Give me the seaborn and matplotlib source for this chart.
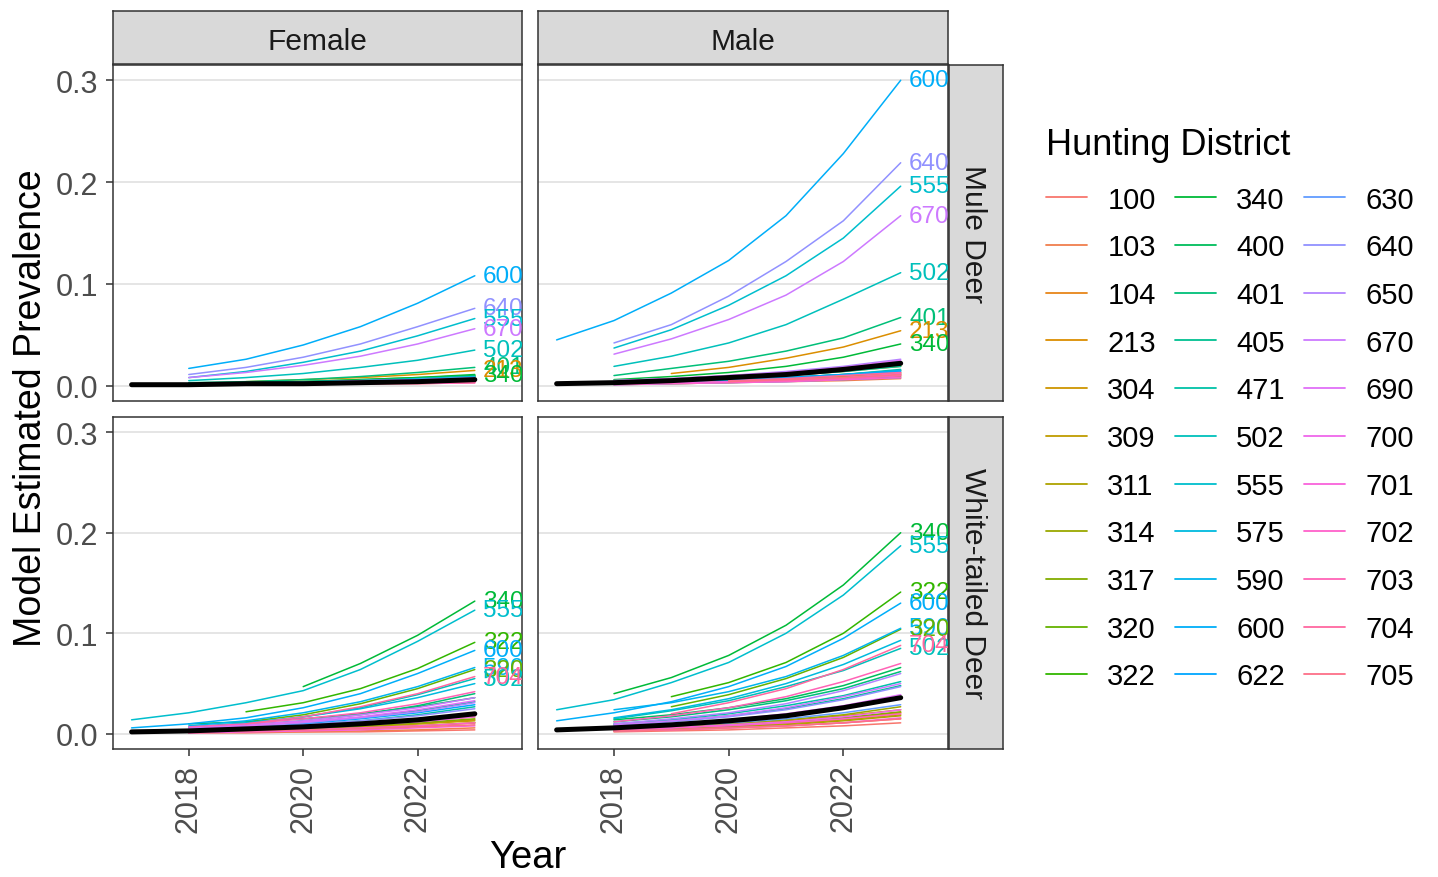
import numpy as np
import pandas as pd
import matplotlib
matplotlib.use("Agg")
import matplotlib.pyplot as plt
from matplotlib.lines import Line2D
import seaborn as sns

nan = np.nan
years = [2017, 2018, 2019, 2020, 2021, 2022, 2023]
districts = ["100", "103", "104", "213", "304", "309", "311", "314", "317", "320", "322",
             "340", "400", "401", "405", "471", "502", "555", "575", "590", "600", "622",
             "630", "640", "650", "670", "690", "700", "701", "702", "703", "704", "705"]
sexes = ["Female", "Male"]
species = ["Mule Deer", "White-tailed Deer"]

mule_female = {
    "100": [nan, 0.001, 0.001, 0.002, 0.002, 0.003, 0.004],
    "103": [nan, 0.001, 0.001, 0.001, 0.002, 0.002, 0.003],
    "104": [nan, 0.002, 0.002, 0.003, 0.004, 0.006, 0.008],
    "213": [nan, nan, 0.004, 0.006, 0.008, 0.011, 0.015],
    "304": [nan, 0.001, 0.002, 0.002, 0.003, 0.004, 0.006],
    "309": [nan, 0.001, 0.001, 0.002, 0.003, 0.004, 0.005],
    "311": [nan, 0.001, 0.001, 0.002, 0.002, 0.003, 0.004],
    "314": [nan, 0.001, 0.002, 0.003, 0.004, 0.005, 0.007],
    "317": [nan, 0.001, 0.001, 0.002, 0.003, 0.004, 0.005],
    "320": [nan, 0.002, 0.003, 0.004, 0.005, 0.007, 0.009],
    "322": [nan, 0.002, 0.003, 0.004, 0.006, 0.008, 0.010],
    "340": [nan, 0.002, 0.003, 0.004, 0.006, 0.008, 0.011],
    "400": [nan, 0.002, 0.003, 0.004, 0.005, 0.007, 0.010],
    "401": [nan, 0.003, 0.004, 0.006, 0.009, 0.013, 0.018],
    "405": [nan, 0.002, 0.002, 0.003, 0.005, 0.006, 0.009],
    "471": [nan, 0.001, 0.002, 0.003, 0.004, 0.005, 0.007],
    "502": [nan, 0.005, 0.008, 0.012, 0.018, 0.025, 0.035],
    "555": [nan, 0.008, 0.014, 0.023, 0.034, 0.049, 0.066],
    "575": [nan, 0.002, 0.003, 0.004, 0.005, 0.007, 0.009],
    "590": [nan, 0.001, 0.002, 0.003, 0.004, 0.005, 0.007],
    "600": [nan, 0.017, 0.026, 0.040, 0.058, 0.081, 0.108],
    "622": [nan, 0.001, 0.002, 0.002, 0.003, 0.004, 0.006],
    "630": [nan, 0.001, 0.001, 0.002, 0.003, 0.004, 0.005],
    "640": [nan, 0.011, 0.018, 0.028, 0.041, 0.058, 0.076],
    "650": [nan, 0.002, 0.002, 0.003, 0.005, 0.006, 0.008],
    "670": [nan, 0.008, 0.013, 0.020, 0.029, 0.041, 0.056],
    "690": [nan, 0.001, 0.002, 0.002, 0.003, 0.005, 0.006],
    "700": [nan, 0.001, 0.001, 0.002, 0.002, 0.003, 0.004],
    "701": [nan, nan, nan, nan, 0.002, 0.003, 0.004],
    "702": [nan, 0.001, 0.001, 0.001, 0.002, 0.003, 0.003],
    "703": [nan, nan, nan, 0.001, 0.002, 0.002, 0.003],
    "704": [nan, nan, nan, 0.002, 0.003, 0.004, 0.005],
    "705": [nan, nan, nan, 0.001, 0.002, 0.003, 0.004],
}

mule_male = {
    "100": [nan, 0.002, 0.003, 0.004, 0.005, 0.007, 0.010],
    "103": [nan, 0.001, 0.002, 0.003, 0.004, 0.005, 0.007],
    "104": [nan, 0.004, 0.005, 0.007, 0.010, 0.014, 0.019],
    "213": [nan, nan, 0.012, 0.018, 0.027, 0.038, 0.054],
    "304": [nan, 0.003, 0.004, 0.005, 0.007, 0.010, 0.013],
    "309": [nan, 0.002, 0.003, 0.005, 0.006, 0.009, 0.012],
    "311": [nan, 0.002, 0.002, 0.003, 0.005, 0.006, 0.009],
    "314": [nan, 0.003, 0.004, 0.006, 0.008, 0.011, 0.015],
    "317": [nan, 0.002, 0.003, 0.004, 0.006, 0.008, 0.011],
    "320": [nan, 0.004, 0.006, 0.008, 0.011, 0.015, 0.020],
    "322": [nan, 0.004, 0.006, 0.009, 0.012, 0.017, 0.023],
    "340": [nan, 0.006, 0.009, 0.013, 0.019, 0.028, 0.041],
    "400": [nan, 0.004, 0.006, 0.008, 0.012, 0.016, 0.022],
    "401": [nan, 0.010, 0.017, 0.024, 0.034, 0.047, 0.067],
    "405": [nan, 0.004, 0.005, 0.007, 0.010, 0.014, 0.019],
    "471": [nan, 0.003, 0.004, 0.006, 0.008, 0.011, 0.016],
    "502": [nan, 0.019, 0.029, 0.042, 0.060, 0.085, 0.111],
    "555": [nan, 0.037, 0.055, 0.079, 0.108, 0.145, 0.196],
    "575": [nan, 0.004, 0.006, 0.008, 0.012, 0.017, 0.024],
    "590": [nan, 0.003, 0.004, 0.006, 0.008, 0.011, 0.015],
    "600": [0.045, 0.064, 0.091, 0.123, 0.167, 0.228, 0.300],
    "622": [nan, 0.003, 0.004, 0.006, 0.008, 0.011, 0.014],
    "630": [nan, 0.001, 0.002, 0.003, 0.004, 0.006, 0.008],
    "640": [nan, 0.042, 0.060, 0.088, 0.122, 0.162, 0.219],
    "650": [nan, 0.005, 0.007, 0.010, 0.014, 0.019, 0.026],
    "670": [nan, 0.031, 0.046, 0.065, 0.089, 0.122, 0.167],
    "690": [nan, 0.005, 0.007, 0.010, 0.013, 0.018, 0.025],
    "700": [nan, 0.002, 0.003, 0.004, 0.005, 0.007, 0.010],
    "701": [nan, nan, nan, 0.004, 0.006, 0.008, 0.012],
    "702": [nan, 0.001, 0.002, 0.003, 0.004, 0.006, 0.008],
    "703": [nan, nan, nan, 0.004, 0.005, 0.007, 0.010],
    "704": [nan, nan, nan, 0.005, 0.007, 0.010, 0.013],
    "705": [nan, nan, nan, 0.004, 0.006, 0.008, 0.011],
}

white_female = {
    "100": [nan, 0.001, 0.001, 0.002, 0.002, 0.003, 0.004],
    "103": [nan, 0.001, 0.002, 0.002, 0.003, 0.004, 0.006],
    "104": [nan, 0.002, 0.003, 0.004, 0.006, 0.008, 0.011],
    "213": [nan, nan, 0.004, 0.005, 0.007, 0.010, 0.014],
    "304": [nan, 0.003, 0.004, 0.006, 0.009, 0.012, 0.017],
    "309": [nan, 0.002, 0.003, 0.005, 0.007, 0.010, 0.013],
    "311": [nan, 0.002, 0.003, 0.004, 0.006, 0.008, 0.011],
    "314": [nan, 0.003, 0.005, 0.007, 0.010, 0.014, 0.019],
    "317": [nan, 0.002, 0.004, 0.005, 0.008, 0.011, 0.015],
    "320": [nan, nan, 0.012, 0.019, 0.030, 0.045, 0.064],
    "322": [nan, nan, 0.022, 0.031, 0.045, 0.065, 0.091],
    "340": [nan, nan, nan, 0.047, 0.070, 0.098, 0.132],
    "400": [nan, 0.010, 0.012, 0.015, 0.020, 0.027, 0.036],
    "401": [nan, 0.006, 0.009, 0.013, 0.019, 0.028, 0.040],
    "405": [nan, 0.005, 0.008, 0.011, 0.016, 0.023, 0.032],
    "471": [nan, 0.004, 0.006, 0.009, 0.013, 0.019, 0.027],
    "502": [nan, 0.006, 0.010, 0.017, 0.026, 0.039, 0.055],
    "555": [0.014, 0.021, 0.031, 0.043, 0.064, 0.092, 0.123],
    "575": [nan, 0.007, 0.011, 0.017, 0.025, 0.036, 0.050],
    "590": [nan, 0.008, 0.013, 0.021, 0.032, 0.047, 0.066],
    "600": [0.006, 0.010, 0.016, 0.026, 0.040, 0.060, 0.083],
    "622": [nan, 0.005, 0.007, 0.010, 0.015, 0.021, 0.029],
    "630": [nan, 0.003, 0.005, 0.007, 0.010, 0.014, 0.020],
    "640": [nan, 0.004, 0.006, 0.009, 0.013, 0.018, 0.025],
    "650": [nan, 0.005, 0.007, 0.011, 0.016, 0.022, 0.031],
    "670": [nan, 0.006, 0.009, 0.013, 0.019, 0.026, 0.036],
    "690": [nan, 0.005, 0.008, 0.012, 0.017, 0.024, 0.033],
    "700": [nan, 0.003, 0.004, 0.006, 0.009, 0.012, 0.017],
    "701": [nan, 0.001, 0.002, 0.003, 0.004, 0.006, 0.008],
    "702": [nan, 0.002, 0.003, 0.004, 0.006, 0.008, 0.011],
    "703": [nan, 0.007, 0.010, 0.015, 0.021, 0.030, 0.042],
    "704": [nan, nan, 0.010, 0.017, 0.027, 0.040, 0.057],
    "705": [nan, 0.002, 0.003, 0.004, 0.005, 0.007, 0.009],
}

white_male = {
    "100": [nan, 0.002, 0.003, 0.004, 0.006, 0.008, 0.011],
    "103": [nan, 0.003, 0.004, 0.006, 0.008, 0.011, 0.015],
    "104": [nan, 0.004, 0.006, 0.008, 0.011, 0.015, 0.021],
    "213": [nan, nan, 0.006, 0.008, 0.011, 0.015, 0.021],
    "304": [nan, 0.005, 0.007, 0.009, 0.013, 0.018, 0.024],
    "309": [nan, 0.004, 0.005, 0.007, 0.010, 0.014, 0.019],
    "311": [nan, 0.003, 0.005, 0.007, 0.009, 0.013, 0.018],
    "314": [nan, 0.005, 0.007, 0.010, 0.014, 0.019, 0.027],
    "317": [nan, 0.004, 0.006, 0.008, 0.011, 0.016, 0.022],
    "320": [nan, nan, 0.027, 0.039, 0.055, 0.076, 0.104],
    "322": [nan, nan, 0.037, 0.051, 0.071, 0.100, 0.141],
    "340": [nan, 0.040, 0.056, 0.078, 0.108, 0.148, 0.200],
    "400": [nan, 0.014, 0.019, 0.026, 0.035, 0.048, 0.066],
    "401": [nan, 0.012, 0.017, 0.024, 0.033, 0.045, 0.062],
    "405": [nan, 0.009, 0.013, 0.018, 0.025, 0.035, 0.048],
    "471": [nan, 0.010, 0.014, 0.020, 0.028, 0.038, 0.052],
    "502": [nan, 0.015, 0.023, 0.033, 0.047, 0.063, 0.085],
    "555": [0.024, 0.034, 0.051, 0.071, 0.100, 0.138, 0.187],
    "575": [nan, 0.016, 0.024, 0.035, 0.050, 0.069, 0.093],
    "590": [nan, 0.024, 0.031, 0.042, 0.057, 0.078, 0.105],
    "600": [0.013, 0.021, 0.032, 0.047, 0.067, 0.095, 0.130],
    "622": [nan, 0.007, 0.010, 0.014, 0.019, 0.026, 0.035],
    "630": [nan, 0.006, 0.008, 0.011, 0.015, 0.021, 0.029],
    "640": [nan, 0.008, 0.012, 0.017, 0.024, 0.034, 0.047],
    "650": [nan, 0.010, 0.015, 0.021, 0.030, 0.043, 0.060],
    "670": [nan, 0.009, 0.013, 0.018, 0.026, 0.037, 0.050],
    "690": [nan, 0.007, 0.010, 0.014, 0.020, 0.028, 0.039],
    "700": [nan, 0.004, 0.006, 0.009, 0.012, 0.017, 0.024],
    "701": [nan, 0.003, 0.004, 0.006, 0.008, 0.011, 0.016],
    "702": [nan, 0.004, 0.006, 0.008, 0.011, 0.015, 0.020],
    "703": [nan, 0.012, 0.018, 0.026, 0.037, 0.052, 0.070],
    "704": [nan, nan, 0.020, 0.031, 0.045, 0.064, 0.088],
    "705": [nan, 0.003, 0.004, 0.006, 0.008, 0.011, 0.015],
}

mean_mule_female = [0.001, 0.001, 0.002, 0.002, 0.003, 0.004, 0.006]
mean_mule_male = [0.002, 0.003, 0.005, 0.008, 0.011, 0.016, 0.022]
mean_white_female = [0.002, 0.003, 0.005, 0.007, 0.010, 0.014, 0.020]
mean_white_male = [0.004, 0.006, 0.009, 0.013, 0.018, 0.026, 0.036]

labeled_mule = ["600", "640", "555", "670", "502", "401", "213", "340"]
labeled_white = ["340", "555", "322", "600", "590", "320", "502", "704"]

y_ticks = [0.0, 0.1, 0.2, 0.3]
y_tick_labels = ["0.0", "0.1", "0.2", "0.3"]
x_ticks = [2018, 2020, 2022]


def hue_palette(n, l=65.0, c=100.0, h_start=15.0):
    """ggplot2-style hue palette (polar CIE-LUV -> sRGB)."""
    hs = np.linspace(h_start, h_start + 360.0, n + 1)[:-1]
    Xn, Yn, Zn = 95.047, 100.0, 108.883
    un = 4 * Xn / (Xn + 15 * Yn + 3 * Zn)
    vn = 9 * Yn / (Xn + 15 * Yn + 3 * Zn)
    out = []
    for h in hs:
        hr = np.deg2rad(h)
        U, V = c * np.cos(hr), c * np.sin(hr)
        Y = Yn * ((l + 16) / 116) ** 3
        up = U / (13 * l) + un
        vp = V / (13 * l) + vn
        X = Y * 9 * up / (4 * vp)
        Z = Y * (12 - 3 * up - 20 * vp) / (4 * vp)
        X, Y2, Z = X / 100, Y / 100, Z / 100
        r = 3.2404542 * X - 1.5371385 * Y2 - 0.4985314 * Z
        g = -0.9692660 * X + 1.8760108 * Y2 + 0.0415560 * Z
        b = 0.0556434 * X - 0.2040259 * Y2 + 1.0572252 * Z
        rgb = []
        for ch in (r, g, b):
            ch = 12.92 * ch if ch <= 0.0031308 else 1.055 * ch ** (1 / 2.4) - 0.055
            rgb.append(min(max(ch, 0.0), 1.0))
        out.append(tuple(rgb))
    return out


palette = dict(zip(districts, hue_palette(len(districts))))

sns.set_theme(style="white")
plt.rcParams["font.family"] = ["Liberation Sans", "DejaVu Sans"]

W, H = 1438, 878
fig = plt.figure(figsize=(W / 100, H / 100), dpi=100)


def box(x0, y0, x1, y1):
    return [x0 / W, 1 - y1 / H, (x1 - x0) / W, (y1 - y0) / H]


col_px = [(113, 522), (538, 948)]
row_px = [(66, 402), (418, 750)]
strip_top = (12, 65)
strip_right = (949, 1003)
border = "#333333"

panels = {
    ("Mule Deer", "Female"): (mule_female, mean_mule_female, labeled_mule),
    ("Mule Deer", "Male"): (mule_male, mean_mule_male, labeled_mule),
    ("White-tailed Deer", "Female"): (white_female, mean_white_female, labeled_white),
    ("White-tailed Deer", "Male"): (white_male, mean_white_male, labeled_white),
}

for ri, sp in enumerate(species):
    for ci, sx in enumerate(sexes):
        values, mean_vals, labeled = panels[(sp, sx)]
        rows = []
        for d in districts:
            for yr, v in zip(years, values[d]):
                if not np.isnan(v):
                    rows.append({"Year": yr, "Prevalence": v, "District": d})
        df = pd.DataFrame(rows)
        x0, x1 = col_px[ci]
        y0, y1 = row_px[ri]
        ax = fig.add_axes(box(x0, y0, x1, y1))
        sns.lineplot(data=df, x="Year", y="Prevalence", hue="District",
                     hue_order=districts, palette=palette, linewidth=1.1,
                     errorbar=None, legend=False, ax=ax)
        sns.lineplot(x=years, y=mean_vals, color="black", linewidth=3.6, ax=ax)
        for d in labeled:
            ax.text(2023.5, values[d][-1], d, color=palette[d], fontsize=17.5,
                    ha="center", va="center", clip_on=True)
        ax.set_xlim(2016.675, 2023.825)
        ax.set_ylim(-0.015, 0.315)
        ax.set_yticks(y_ticks)
        ax.set_yticklabels(y_tick_labels)
        ax.set_xticks(x_ticks)
        ax.set_xticklabels([str(t) for t in x_ticks])
        ax.set_xlabel("")
        ax.set_ylabel("")
        ax.yaxis.grid(True, color="#DEDEDE", linewidth=1.1)
        ax.xaxis.grid(False)
        ax.set_axisbelow(True)
        for s in ax.spines.values():
            s.set_color(border)
            s.set_linewidth(1.1)
        ax.tick_params(axis="both", length=5, width=1.1, color=border,
                       labelsize=22, labelcolor="#4D4D4D", pad=5.5,
                       bottom=True, left=True)
        ax.tick_params(axis="x", labelrotation=90)
        if ri == 0:
            ax.tick_params(axis="x", bottom=False, labelbottom=False)
        if ci == 1:
            ax.tick_params(axis="y", left=False, labelleft=False)

        # top strips
        if ri == 0:
            sax = fig.add_axes(box(x0, strip_top[0], x1, strip_top[1]))
            sax.set_facecolor("#D9D9D9")
            sax.set_xticks([])
            sax.set_yticks([])
            for s in sax.spines.values():
                s.set_color(border)
                s.set_linewidth(1.1)
            sax.text(0.5, 0.44, sx, ha="center", va="center", fontsize=21.5,
                     color="#1A1A1A", transform=sax.transAxes)
        # right strips
        if ci == 1:
            rax = fig.add_axes(box(strip_right[0], y0, strip_right[1], y1))
            rax.set_facecolor("#D9D9D9")
            rax.set_xticks([])
            rax.set_yticks([])
            for s in rax.spines.values():
                s.set_color(border)
                s.set_linewidth(1.1)
            rax.text(0.44, 0.5, sp, ha="center", va="center", fontsize=21.5,
                     color="#1A1A1A", rotation=-90, transform=rax.transAxes)

fig.text(31 / W, 1 - 408 / H, "Model Estimated Prevalence", rotation=90,
         ha="center", va="center", fontsize=27, color="black")
fig.text(528 / W, 1 - 858 / H, "Year", ha="center", va="center",
         fontsize=27.5, color="black")

handles = [Line2D([], [], color=palette[d], linewidth=1.3) for d in districts]
leg = fig.legend(handles, districts, title="Hunting District", ncol=3,
                 loc="upper left", bbox_to_anchor=(1046 / W, 1 - 128 / H),
                 frameon=False, fontsize=21, title_fontsize=26, handlelength=1.4,
                 handletextpad=0.7, columnspacing=0.65, labelspacing=0.675,
                 alignment="left", borderpad=0, borderaxespad=0)
leg._legend_box.sep = 17
leg.get_title().set_color("black")
for t in leg.get_texts():
    t.set_color("black")

fig.savefig("out.png", dpi=100, facecolor="white")
